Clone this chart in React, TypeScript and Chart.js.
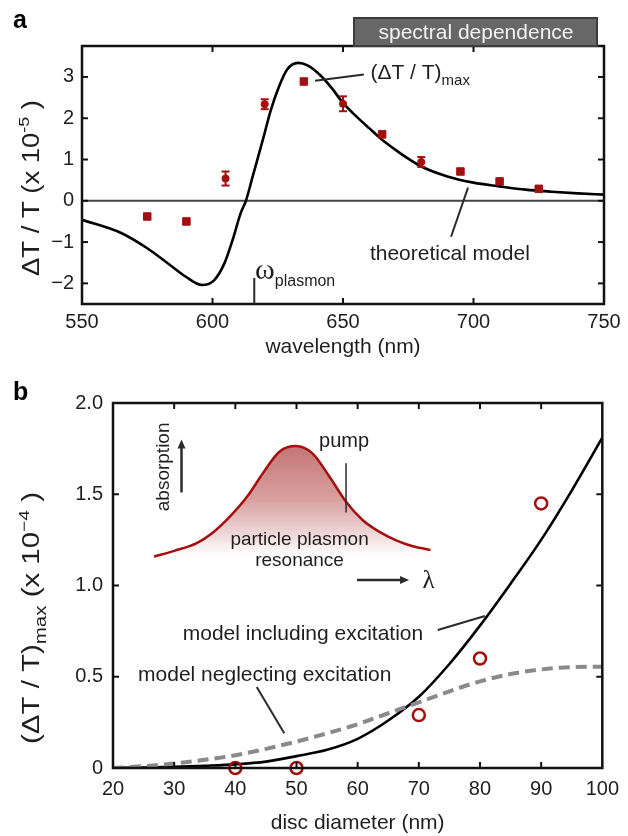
import React, { useEffect, useRef } from 'react';
import { Chart, registerables } from 'chart.js';
Chart.register(...registerables);

const FONT = '"Liberation Sans", Arial, Helvetica, sans-serif';
const SERIF = '"Liberation Serif", "DejaVu Serif", serif';
const TEXT = '#1e1e1e';
const RED = '#a30f0f';
const FRAME = '#111111';

// ---------- Panel a : spectral dependence ----------
const wavelengthTicks = [550, 600, 650, 700, 750];
const deltaTTicks = [-2, -1, 0, 1, 2, 3];
const measWavelength = [575, 590, 605, 620, 635, 650, 665, 680, 695, 710, 725];
const measDeltaT = [-0.38, -0.5, 0.54, 2.34, 2.89, 2.35, 1.61, 0.94, 0.71, 0.47, 0.29];
const measError = [0, 0, 0.17, 0.12, 0, 0.18, 0, 0.12, 0, 0, 0];
const modelWavelength = [550, 565, 575, 583.6, 589.8, 596, 600.7, 604.6, 607.7, 610.8, 612.8, 615.4, 619.3, 622.4, 625.5, 628.6, 632.8, 636.4, 641, 645.7, 650, 655, 660, 665, 670, 675, 680, 690, 700, 710, 720, 730, 740, 750];
const modelDeltaT = [-0.46, -0.78, -1.15, -1.55, -1.84, -2.04, -1.92, -1.51, -0.95, -0.3, 0, 0.59, 1.48, 2.21, 2.77, 3.18, 3.34, 3.28, 3.06, 2.73, 2.37, 2.05, 1.76, 1.48, 1.24, 1.02, 0.83, 0.59, 0.44, 0.35, 0.27, 0.22, 0.18, 0.15];
const plasmonWavelength = 616;

// ---------- Panel b : size dependence ----------
const diameterTicks = [20, 30, 40, 50, 60, 70, 80, 90, 100];
const dtMaxTicks = [0, 0.5, 1, 1.5, 2];
const measDiameter = [40, 50, 70, 80, 90];
const measDtMax = [0.0, 0.0, 0.29, 0.6, 1.45];
const modelDiameter = [20, 25, 30, 35, 40, 45, 50, 55, 60, 65, 70, 75, 80, 85, 90, 95, 100];
const modelIncluding = [0, 0.002, 0.006, 0.012, 0.02, 0.035, 0.065, 0.1, 0.16, 0.26, 0.39, 0.57, 0.78, 1.01, 1.25, 1.52, 1.81];
const modelNeglecting = [0, 0.01, 0.025, 0.045, 0.07, 0.105, 0.145, 0.19, 0.24, 0.3, 0.36, 0.42, 0.475, 0.515, 0.54, 0.553, 0.555];
// inset sketch of the plasmon resonance, drawn in the panel's own coordinates
const insetX = [26.7, 30, 33.6, 36.5, 39.1, 42, 44.5, 47.2, 49.9, 52.6, 55.4, 58.1, 60.8, 63.5, 66.2, 69, 71.9];
const insetY = [1.158, 1.19, 1.231, 1.295, 1.377, 1.49, 1.615, 1.733, 1.764, 1.724, 1.596, 1.459, 1.359, 1.295, 1.249, 1.215, 1.195];

type Part = { t: string; size: number; dy?: number; family?: string; weight?: string };

function drawParts(
  ctx: CanvasRenderingContext2D,
  parts: Part[],
  x: number,
  y: number,
  align: 'left' | 'center',
  rotate = 0,
  targetLen = 0,
  color = TEXT
) {
  ctx.save();
  ctx.translate(x, y);
  if (rotate) ctx.rotate(rotate);
  const widths = parts.map((p) => {
    ctx.font = `${p.weight || 'normal'} ${p.size}px ${p.family || FONT}`;
    return ctx.measureText(p.t).width;
  });
  const total = widths.reduce((a, b) => a + b, 0);
  if (targetLen) ctx.scale(targetLen / total, 1);
  let cx = align === 'center' ? -total / 2 : 0;
  const base = parts[0].size * 0.36;
  ctx.fillStyle = color;
  ctx.textAlign = 'left';
  ctx.textBaseline = 'alphabetic';
  parts.forEach((p, i) => {
    ctx.font = `${p.weight || 'normal'} ${p.size}px ${p.family || FONT}`;
    ctx.fillText(p.t, cx, base + (p.dy || 0));
    cx += widths[i];
  });
  ctx.restore();
}

function line(ctx: CanvasRenderingContext2D, x1: number, y1: number, x2: number, y2: number) {
  ctx.beginPath();
  ctx.moveTo(x1, y1);
  ctx.lineTo(x2, y2);
  ctx.stroke();
}

function drawFrameAndTicks(chart: any) {
  const { ctx, chartArea: ca, scales } = chart;
  const x = scales.x;
  const y = scales.y;
  ctx.save();
  ctx.strokeStyle = FRAME;
  ctx.lineWidth = 2;
  const tl = 6;
  x.ticks.forEach((t: any) => {
    const px = x.getPixelForValue(t.value);
    if (px <= ca.left + 2 || px >= ca.right - 2) return;
    line(ctx, px, ca.bottom, px, ca.bottom - tl);
    line(ctx, px, ca.top, px, ca.top + tl);
  });
  y.ticks.forEach((t: any) => {
    const py = y.getPixelForValue(t.value);
    if (py <= ca.top + 2 || py >= ca.bottom - 2) return;
    line(ctx, ca.left, py, ca.left + tl, py);
    line(ctx, ca.right, py, ca.right - tl, py);
  });
  ctx.lineWidth = 2.5;
  ctx.strokeRect(ca.left, ca.top, ca.right - ca.left, ca.bottom - ca.top);
  ctx.restore();
}

const minusFmt = (v: number) => (v < 0 ? '\u2212' + Math.abs(v) : String(v));

const panelAPlugin = {
  id: 'panelA',
  beforeDatasetsDraw(chart: any) {
    const { ctx, chartArea: ca, scales } = chart;
    const py = scales.y.getPixelForValue(0);
    ctx.save();
    ctx.strokeStyle = '#444';
    ctx.lineWidth = 2;
    line(ctx, ca.left, py, ca.right, py);
    ctx.restore();
  },
  afterDatasetsDraw(chart: any) {
    const { ctx, scales } = chart;
    const x = scales.x;
    const y = scales.y;
    ctx.save();
    ctx.strokeStyle = RED;
    ctx.lineWidth = 2;
    measWavelength.forEach((w, i) => {
      const e = measError[i];
      if (!e) return;
      const px = x.getPixelForValue(w);
      const y1 = y.getPixelForValue(measDeltaT[i] - e);
      const y2 = y.getPixelForValue(measDeltaT[i] + e);
      line(ctx, px, y1, px, y2);
      line(ctx, px - 4, y1, px + 4, y1);
      line(ctx, px - 4, y2, px + 4, y2);
    });
    ctx.restore();
  },
  afterDraw(chart: any) {
    const { ctx, chartArea: ca, scales } = chart;
    const x = scales.x;
    const y = scales.y;
    drawFrameAndTicks(chart);
    const X = (v: number) => x.getPixelForValue(v);
    const Y = (v: number) => y.getPixelForValue(v);
    ctx.save();
    ctx.strokeStyle = '#2a2a2a';
    ctx.lineWidth = 2;
    // leader lines
    line(ctx, X(639.3), Y(2.91), X(658), Y(3.06));
    line(ctx, X(691.4), Y(-0.87), X(697.9), Y(0.32));
    // omega plasmon marker
    line(ctx, X(plasmonWavelength), Y(-1.87), X(plasmonWavelength), ca.bottom);
    ctx.restore();

    drawParts(ctx, [{ t: '(\u0394T / T)', size: 21 }, { t: 'max', size: 15, dy: 6 }], X(660.5), Y(3.13), 'left');
    drawParts(ctx, [{ t: 'theoretical model', size: 21 }], X(660.3), Y(-1.24), 'left');
    drawParts(ctx, [{ t: '\u03c9', size: 30, family: SERIF }, { t: 'plasmon', size: 16, dy: 7 }], X(616.3), Y(-1.63), 'left');

    // y title
    drawParts(
      ctx,
      [{ t: '\u0394T / T (x 10', size: 23 }, { t: '-5', size: 15, dy: -10 }, { t: ' )', size: 23 }],
      31,
      188,
      'center',
      -Math.PI / 2,
      176
    );

    // panel letter
    drawParts(ctx, [{ t: 'a', size: 25, weight: 'bold' }], 13, 19, 'left', 0, 0, '#000');

    // "spectral dependence" tab
    ctx.save();
    ctx.fillStyle = '#676767';
    ctx.strokeStyle = '#3c3c3c';
    ctx.lineWidth = 2;
    ctx.fillRect(354, 18, 243, 28);
    ctx.strokeRect(354, 18, 243, 28);
    ctx.restore();
    drawParts(ctx, [{ t: 'spectral dependence', size: 21 }], 476, 31, 'center', 0, 0, '#f2f2f2');
  },
};

const panelBPlugin = {
  id: 'panelB',
  afterDraw(chart: any) {
    const { ctx, scales } = chart;
    const x = scales.x;
    const y = scales.y;
    drawFrameAndTicks(chart);
    const X = (v: number) => x.getPixelForValue(v);
    const Y = (v: number) => y.getPixelForValue(v);
    ctx.save();
    ctx.strokeStyle = '#2a2a2a';
    ctx.fillStyle = '#2a2a2a';
    ctx.lineWidth = 2;
    line(ctx, X(73.1), Y(0.756), X(80.8), Y(0.833));
    line(ctx, X(43.5), Y(0.444), X(48.0), Y(0.19));
    // pump marker
    ctx.lineWidth = 1.5;
    line(ctx, X(58.1), Y(1.67), X(58.1), Y(1.4));
    // absorption arrow (up)
    ctx.lineWidth = 2.5;
    const ax = X(31.2);
    line(ctx, ax, Y(1.51), ax, Y(1.8) + 8);
    ctx.beginPath();
    ctx.moveTo(ax, Y(1.8));
    ctx.lineTo(ax - 4, Y(1.8) + 9);
    ctx.lineTo(ax + 4, Y(1.8) + 9);
    ctx.closePath();
    ctx.fill();
    // lambda arrow (right)
    const ay = Y(1.03);
    line(ctx, X(59.9), ay, X(68.4) - 8, ay);
    ctx.beginPath();
    ctx.moveTo(X(68.4), ay);
    ctx.lineTo(X(68.4) - 9, ay - 4);
    ctx.lineTo(X(68.4) - 9, ay + 4);
    ctx.closePath();
    ctx.fill();
    ctx.restore();

    drawParts(ctx, [{ t: 'pump', size: 20 }], X(53.7), Y(1.8), 'left');
    drawParts(ctx, [{ t: 'absorption', size: 19 }], X(28.0), Y(1.65), 'center', -Math.PI / 2);
    drawParts(ctx, [{ t: 'particle plasmon', size: 19 }], X(50.5), Y(1.26), 'center');
    drawParts(ctx, [{ t: 'resonance', size: 19 }], X(50.5), Y(1.145), 'center');
    drawParts(ctx, [{ t: '\u03bb', size: 25, family: SERIF }], X(70.6), Y(1.035), 'left');
    drawParts(ctx, [{ t: 'model including excitation', size: 21 }], X(31.4), Y(0.745), 'left');
    drawParts(ctx, [{ t: 'model neglecting excitation', size: 21 }], X(24.1), Y(0.52), 'left');

    drawParts(
      ctx,
      [
        { t: '(\u0394T / T)', size: 23 },
        { t: 'max', size: 16, dy: 7 },
        { t: ' (x 10', size: 23 },
        { t: '\u22124', size: 15, dy: -10 },
        { t: ' )', size: 23 },
      ],
      31,
      248,
      'center',
      -Math.PI / 2,
      252
    );
    drawParts(ctx, [{ t: 'b', size: 25, weight: 'bold' }], 13, 21, 'left', 0, 0, '#000');
  },
};

function axisCommon(ticksArr: number[], size: number, horizontal: boolean, pad: number, fmt?: (v: number) => string) {
  return {
    type: 'linear',
    afterFit: (s: any) => {
      if (horizontal) s.height = size;
      else s.width = size;
    },
    afterBuildTicks: (s: any) => {
      s.ticks = ticksArr.map((v) => ({ value: v }));
    },
    grid: { display: false, drawTicks: false },
    border: { display: false },
    ticks: {
      padding: pad,
      color: TEXT,
      autoSkip: false,
      maxRotation: 0,
      font: { size: 20, family: FONT },
      callback: fmt ? (v: any) => fmt(Number(v)) : undefined,
    },
  };
}

export default function App() {
  const refA = useRef<HTMLCanvasElement>(null);
  const refB = useRef<HTMLCanvasElement>(null);

  useEffect(() => {
    const chartA = new Chart(refA.current as HTMLCanvasElement, {
      type: 'line',
      data: {
        datasets: [
          {
            data: measWavelength.map((w, i) => ({ x: w, y: measDeltaT[i] })),
            showLine: false,
            pointStyle: measError.map((e) => (e ? 'circle' : 'rect')) as any,
            pointRadius: measError.map((e) => (e ? 3.6 : 5.3)),
            backgroundColor: RED,
            borderColor: RED,
            borderWidth: 1,
          },
          {
            data: modelWavelength.map((w, i) => ({ x: w, y: modelDeltaT[i] })),
            borderColor: '#000',
            borderWidth: 2.6,
            pointRadius: 0,
            cubicInterpolationMode: 'monotone',
            fill: false,
          },
        ],
      },
      options: {
        animation: false,
        responsive: false,
        events: [],
        layout: { padding: { top: 46, right: 24, left: 0, bottom: 0 } },
        plugins: { legend: { display: false }, tooltip: { enabled: false } },
        scales: {
          x: {
            ...axisCommon(wavelengthTicks, 66, true, 6),
            min: 550,
            max: 750,
            title: { display: true, text: 'wavelength (nm)', color: TEXT, font: { size: 21, family: FONT }, padding: { top: 0, bottom: 10 } },
          },
          y: {
            ...axisCommon(deltaTTicks, 82, false, 8, minusFmt),
            min: -2.5,
            max: 3.75,
          },
        },
      } as any,
      plugins: [panelAPlugin],
    });

    const chartB = new Chart(refB.current as HTMLCanvasElement, {
      type: 'line',
      data: {
        datasets: [
          {
            data: measDiameter.map((d, i) => ({ x: d, y: measDtMax[i] })),
            showLine: false,
            pointStyle: 'circle',
            pointRadius: 6,
            borderWidth: 2.5,
            borderColor: RED,
            backgroundColor: 'rgba(0,0,0,0)',
            clip: false,
          },
          {
            data: modelDiameter.map((d, i) => ({ x: d, y: modelNeglecting[i] })),
            borderColor: '#8a8a8a',
            borderWidth: 4,
            borderDash: [11, 6],
            pointRadius: 0,
            cubicInterpolationMode: 'monotone',
            fill: false,
          },
          {
            data: modelDiameter.map((d, i) => ({ x: d, y: modelIncluding[i] })),
            borderColor: '#000',
            borderWidth: 2.6,
            pointRadius: 0,
            cubicInterpolationMode: 'monotone',
            fill: false,
          },
          {
            data: insetX.map((d, i) => ({ x: d, y: insetY[i] })),
            borderColor: '#a50f0f',
            borderWidth: 2.5,
            pointRadius: 0,
            cubicInterpolationMode: 'monotone',
            fill: { value: 1.1 },
            backgroundColor: (c: any) => {
              const chart = c.chart;
              const { chartArea, scales } = chart;
              if (!chartArea || !scales.y) return 'rgba(0,0,0,0)';
              const g = chart.ctx.createLinearGradient(0, scales.y.getPixelForValue(1.76), 0, scales.y.getPixelForValue(1.12));
              g.addColorStop(0, '#c57676');
              g.addColorStop(0.45, '#d8a0a0');
              g.addColorStop(0.8, '#f2e2e2');
              g.addColorStop(1, 'rgba(255,255,255,0)');
              return g;
            },
          },
        ],
      },
      options: {
        animation: false,
        responsive: false,
        events: [],
        layout: { padding: { top: 33, right: 24, left: 0, bottom: 0 } },
        plugins: { legend: { display: false }, tooltip: { enabled: false } },
        scales: {
          x: {
            ...axisCommon(diameterTicks, 68, true, 9),
            min: 20,
            max: 100,
            title: { display: true, text: 'disc diameter (nm)', color: TEXT, font: { size: 21, family: FONT }, padding: { top: 0, bottom: 0 } },
          },
          y: {
            ...axisCommon(dtMaxTicks, 113, false, 10, (v) => (v === 0 ? '0' : v.toFixed(1))),
            min: 0,
            max: 2,
          },
        },
      } as any,
      plugins: [panelBPlugin],
    });

    return () => {
      chartA.destroy();
      chartB.destroy();
    };
  }, []);

  return (
    <div style={{ position: 'absolute', left: 0, top: 0, width: 628, height: 836, background: '#fff' }}>
      <canvas ref={refA} width={628} height={370} style={{ position: 'absolute', left: 0, top: 0, width: 628, height: 370 }} />
      <canvas ref={refB} width={628} height={466} style={{ position: 'absolute', left: 0, top: 370, width: 628, height: 466 }} />
    </div>
  );
}
